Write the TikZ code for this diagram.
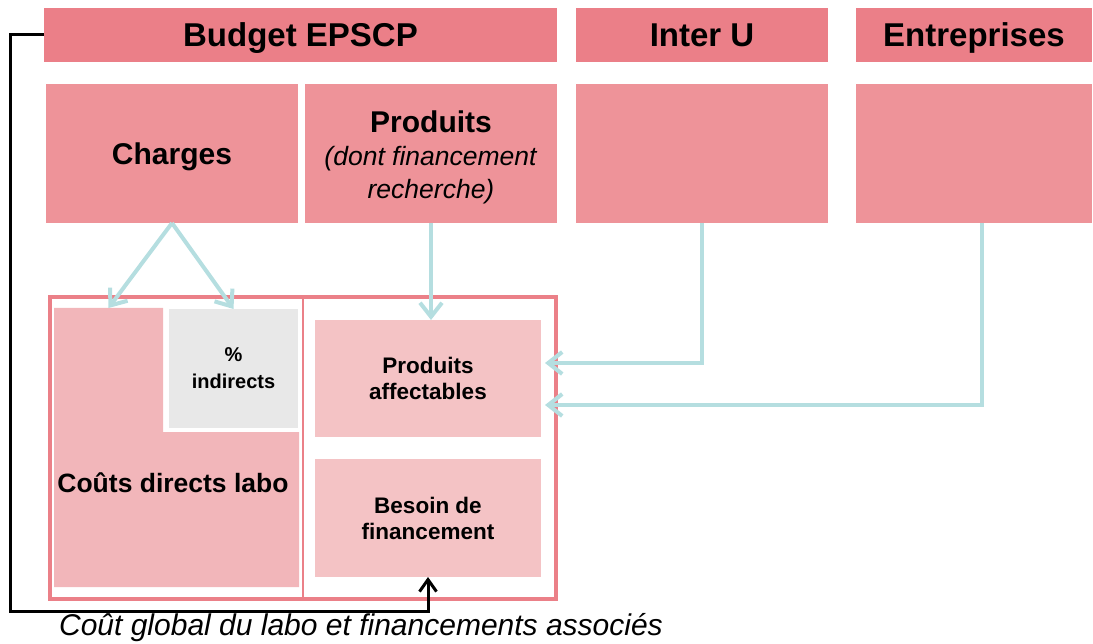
\documentclass[tikz,border=0pt]{standalone}
\usepackage{fontspec}
\setmainfont{Liberation Sans}
\usetikzlibrary{arrows.meta,calc}
\definecolor{topc}{HTML}{EB7F88}
\definecolor{midc}{HTML}{EE9399}
\definecolor{cdc}{HTML}{F2B6BA}
\definecolor{pac}{HTML}{F4C3C5}
\definecolor{greyc}{HTML}{E8E8E8}
\definecolor{framec}{HTML}{EB8088}
\definecolor{arrc}{HTML}{B5DEE0}
\tikzset{
  rectbox/.style 2 args={inner sep=0pt, outer sep=0pt, align=center, text=black, text depth=0pt, minimum width=#1pt, minimum height=#2pt},
  toptitle/.style={font=\fontsize{33}{38}\selectfont\bfseries},
  midtitle/.style={font=\fontsize{30}{34}\selectfont\bfseries},
  smalltitle/.style={font=\fontsize{22.5}{26}\selectfont\bfseries},
  bluearrow/.style={draw=arrc, line width=4pt, -{Straight Barb[length=14pt,width=22pt]}},
  blackarrow/.style={draw=black, line width=3pt, -{Straight Barb[length=12pt,width=17pt]}},
}
\begin{document}
\begin{tikzpicture}[x=1pt,y=-1pt]
\useasboundingbox (0,0) rectangle (1093,644);
% top row
\node (budget) at (300.5,35) [rectbox={513}{54}, fill=topc, toptitle] {Budget EPSCP};
\node (interu) at (702,35) [rectbox={252}{54}, fill=topc, toptitle] {Inter U};
\node (entr) at (974,35) [rectbox={236}{54}, fill=topc, toptitle] {Entreprises};
% second row
\node (charges) at (172,153.5) [rectbox={252}{139}, fill=midc, midtitle] {Charges};
\node (produits) at (431,153.5) [rectbox={252}{139}, fill=midc] {};
\node (prodtext) at (431,157) [align=center, inner sep=0pt, font=\fontsize{26.5}{33}\selectfont] {\textbf{\fontsize{30}{33}\selectfont Produits}\\\textit{(dont financement}\\\textit{recherche)}};
\node (interu2) at (702,153.5) [rectbox={252}{139}, fill=midc] {};
\node (entr2) at (974,153.5) [rectbox={236}{139}, fill=midc] {};
% frame
\node (frame) at (303,448) [rectbox={506}{302}, draw=framec, line width=3.5pt] {};
\draw[framec, line width=2pt] (frame.north -| 303,0) -- (frame.south -| 303,0);
% couts directs
\fill[cdc] (54,308) -- (163,308) -- (163,432) -- (299,432) -- (299,587) -- (54,587) -- cycle;
\node (cdlcol) at (108.5,447.5) [rectbox={109}{279}] {};
\node (cdl) at (173,483) [inner sep=0pt, text depth=0pt, font=\fontsize{26.5}{30}\selectfont\bfseries] {Coûts directs labo};
\node (indir) at (233.5,368.5) [rectbox={129}{119}, fill=greyc, font=\fontsize{20}{27}\selectfont\bfseries] {\%\\indirects};
\node (paff) at (428,378.5) [rectbox={226}{117}, fill=pac, smalltitle] {Produits\\affectables};
\node (besoin) at (428,518) [rectbox={226}{118}, fill=pac, smalltitle] {Besoin de\\financement};
% blue arrows
\draw[bluearrow] (charges.south) -- (cdlcol.north);
\draw[bluearrow] (charges.south) -- (indir.north);
\draw[bluearrow] (produits.south) -- (produits.south |- paff.north);
\coordinate (tipA) at ($(paff.east)+(4,-15.5)$);
\coordinate (tipB) at ($(paff.east)+(4,26.5)$);
\draw[bluearrow] (interu2.south) -- (interu2.south |- tipA) -- (tipA);
\draw[bluearrow] ([xshift=8pt]entr2.south) -- ([xshift=8pt]entr2.south |- tipB) -- (tipB);
% black connector
\coordinate (corner) at (10,611);
\draw[blackarrow] (budget.west) -- (budget.west -| corner) -- (corner) -- (corner -| besoin.south) -- (besoin.south);
\node (caption) at (361,628) [inner sep=0pt, font=\fontsize{30}{34}\selectfont\itshape] {Coût global du labo et financements associés};
\end{tikzpicture}
\end{document}
